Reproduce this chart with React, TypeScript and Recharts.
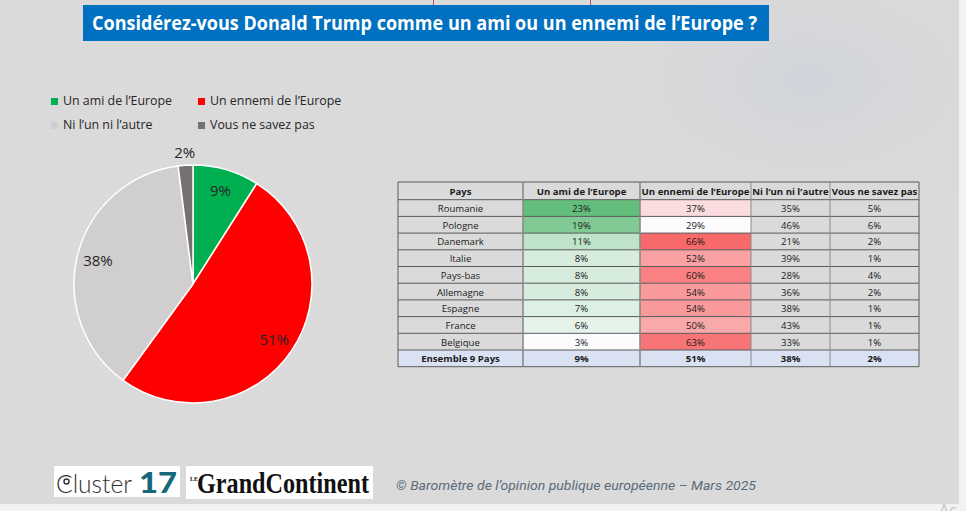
import React from 'react';
import { PieChart, Pie, Cell, Legend } from 'recharts';

// ---------- data ----------
const titleText = 'Considérez-vous Donald Trump comme un ami ou un ennemi de l’Europe ?';
const categories = ['Un ami de l’Europe', 'Un ennemi de l’Europe', 'Ni l’un ni l’autre', 'Vous ne savez pas'];
const pieValues = [9, 51, 38, 2];
const pieColors = ['#00B050', '#FF0000', '#D0CECE', '#767171'];

const countries = ['Roumanie', 'Pologne', 'Danemark', 'Italie', 'Pays-bas', 'Allemagne', 'Espagne', 'France', 'Belgique'];
const amiValues = [23, 19, 11, 8, 8, 8, 7, 6, 3];
const ennemiValues = [37, 29, 66, 52, 60, 54, 54, 50, 63];
const niValues = [35, 46, 21, 39, 28, 36, 38, 43, 33];
const nspValues = [5, 6, 2, 1, 4, 2, 1, 1, 1];
const tableHeaders = ['Pays', ...categories];
const totalLabel = 'Ensemble 9 Pays';
const totalValues = [9, 51, 38, 2];
const footerText = '© Baromètre de l’opinion publique européenne – Mars 2025';

const pieData = categories.map((name, i) => ({ name, value: pieValues[i] }));

// ---------- helpers ----------
const hex = (c: string) => [1, 3, 5].map((i) => parseInt(c.slice(i, i + 2), 16));
const mix = (a: string, b: string, t: number) => {
  const A = hex(a), B = hex(b);
  return 'rgb(' + A.map((v, i) => Math.round(v + (B[i] - v) * t)).join(',') + ')';
};
const scaleColor = (vals: number[], v: number, lo: string, hi: string) => {
  const mn = Math.min(...vals), mx = Math.max(...vals);
  return mix(lo, hi, (v - mn) / (mx - mn));
};

const FONT = '"Open Sans", "Noto Sans", sans-serif';

const renderLabel = (props: any) => {
  const { cx, cy, midAngle, outerRadius, value } = props;
  const RAD = Math.PI / 180;
  const r = value < 5 ? outerRadius + 13 : outerRadius * 0.825;
  const x = cx + r * Math.cos(-midAngle * RAD);
  const y = cy + r * Math.sin(-midAngle * RAD);
  return (
    <text x={x} y={y} textAnchor="middle" dominantBaseline="central" fontSize={15} fill="#262626" fontFamily={FONT}>
      {value}%
    </text>
  );
};

const renderLegend = () => (
  <div style={{ position: 'relative', width: 320, height: 40 }}>
    {categories.map((name, i) => {
      const col = i % 2, row = Math.floor(i / 2);
      return (
        <div key={name} style={{ position: 'absolute', left: col * 147, top: row * 24, display: 'flex', alignItems: 'center', fontFamily: FONT, fontSize: 12.4, color: '#262626', whiteSpace: 'nowrap', lineHeight: '16px' }}>
          <span style={{ display: 'inline-block', width: 7, height: 7, background: pieColors[i], marginRight: 5 }} />
          {name}
        </div>
      );
    })}
  </div>
);

// ---------- table ----------
const colX = [398, 523, 640, 751, 830, 919];
const tableTop = 182;
const headerH = 17.7;
const rowH = 16.7;

const Table = () => {
  const cells: React.ReactNode[] = [];
  const rowY = (r: number) => (r === 0 ? tableTop : tableTop + headerH + (r - 1) * rowH);
  const rowHt = (r: number) => (r === 0 ? headerH : rowH);
  const txt = (x0: number, x1: number, y: number, h: number, s: string, bold: boolean, key: string) => (
    <text key={key} x={(x0 + x1) / 2} y={y + h / 2 + 0.5} textAnchor="middle" dominantBaseline="central" fontFamily={FONT} fontSize={9.6} fontWeight={bold ? 700 : 400} fill="#1a1a1a">
      {s}
    </text>
  );
  tableHeaders.forEach((h, c) => {
    cells.push(txt(colX[c], colX[c + 1], rowY(0), rowHt(0), h, true, 'h' + c));
  });
  countries.forEach((name, i) => {
    const r = i + 1;
    const y = rowY(r), h = rowHt(r);
    const vals = [amiValues[i], ennemiValues[i], niValues[i], nspValues[i]];
    const fills = [
      scaleColor(amiValues, amiValues[i], '#FCFCFF', '#63BE7B'),
      scaleColor(ennemiValues, ennemiValues[i], '#FCFCFF', '#F8696B'),
      null,
      null,
    ];
    fills.forEach((f, c) => {
      if (f) cells.push(<rect key={'f' + r + c} x={colX[c + 1]} y={y} width={colX[c + 2] - colX[c + 1]} height={h} fill={f} />);
    });
    cells.push(txt(colX[0], colX[1], y, h, name, false, 'n' + r));
    vals.forEach((v, c) => cells.push(txt(colX[c + 1], colX[c + 2], y, h, v + '%', false, 'v' + r + c)));
  });
  const tr = countries.length + 1;
  const ty = rowY(tr);
  cells.push(<rect key="tot" x={colX[0]} y={ty} width={colX[5] - colX[0]} height={rowH} fill="#D9E1F2" />);
  cells.push(txt(colX[0], colX[1], ty, rowH, totalLabel, true, 'tn'));
  totalValues.forEach((v, c) => cells.push(txt(colX[c + 1], colX[c + 2], ty, rowH, v + '%', true, 'tv' + c)));
  const nRows = countries.length + 2;
  const bottom = rowY(nRows);
  for (let r = 0; r <= nRows; r++) {
    const y = rowY(r);
    cells.push(<line key={'hl' + r} x1={colX[0]} x2={colX[5]} y1={y} y2={y} stroke="#5a5a5a" strokeWidth={1} />);
  }
  colX.forEach((x, i) => {
    cells.push(<line key={'vl' + i} x1={x} x2={x} y1={tableTop} y2={bottom} stroke={i === 0 || i === 5 ? '#5a5a5a' : '#8a8a8a'} strokeWidth={i === 1 || i === 2 ? 1.6 : 1} />);
  });
  return <g>{cells}</g>;
};

export default function App() {
  return (
    <div style={{ position: 'absolute', left: 0, top: 0, width: 966, height: 511, background: '#DADADA', overflow: 'hidden' }}>
      <svg width={966} height={511} style={{ position: 'absolute', left: 0, top: 0 }}>
        <defs>
          <radialGradient id="flag" cx="0.72" cy="0.25" r="0.45">
            <stop offset="0%" stopColor="#cfd3da" stopOpacity={0.9} />
            <stop offset="100%" stopColor="#DADADA" stopOpacity={0} />
          </radialGradient>
        </defs>
        <rect x={420} y={0} width={540} height={320} fill="url(#flag)" />
        <rect x={959} y={0} width={7} height={511} fill="#F2F2F2" />
        <rect x={0} y={504} width={966} height={7} fill="#F2F2F2" />
        <text x={939} y={516} fontFamily={FONT} fontSize={16} fill="#c4c4c4">Ac</text>
        <rect x={433.5} y={-2} width={157} height={13} fill="none" stroke="#C0504D" strokeWidth={1} />
        <rect x={83} y={5} width={686} height={36} fill="#0070C0" />
        <text x={92} y={30} fontFamily={FONT} fontWeight={700} fontSize={19} fill="#FFFFFF" textLength={665} lengthAdjust="spacingAndGlyphs">
          {titleText}
        </text>
        <Table />
        <rect x={54} y={466} width={126} height={31} fill="#FFFFFF" />
        <circle cx={66.5} cy={481.5} r={2.5} fill="none" stroke="#333" strokeWidth={1.4} />
        <text x={56} y={493} fontFamily='"Lato", "Open Sans", sans-serif' fontSize={26} fontWeight={300} fill="#333333" textLength={76} lengthAdjust="spacingAndGlyphs">Cluster</text>
        <text x={139} y={493} fontFamily='"Lato", "Open Sans", sans-serif' fontSize={28} fontWeight={900} fill="#17687A" textLength={38} lengthAdjust="spacingAndGlyphs">17</text>
        <rect x={186} y={466} width={187} height={33} fill="#FFFFFF" />
        <text x={190} y={481} fontFamily='"Liberation Serif", serif' fontWeight={700} fontSize={6} fill="#111">LE</text>
        <text x={197} y={493} fontFamily='"Liberation Serif", serif' fontWeight={700} fontSize={29} fill="#111111" textLength={172} lengthAdjust="spacingAndGlyphs">GrandContinent</text>
        <text x={396} y={490} fontFamily='"Roboto", "Open Sans", sans-serif' fontStyle="italic" fontSize={13} fill="#5B6B7B" textLength={360} lengthAdjust="spacingAndGlyphs">
          {footerText}
        </text>
      </svg>
      <div style={{ position: 'absolute', left: 0, top: 0 }}>
        <PieChart width={400} height={470}>
          <Legend content={renderLegend} wrapperStyle={{ position: 'absolute', left: 51, top: 93, width: 320, height: 40 }} />
          <Pie
            data={pieData}
            dataKey="value"
            nameKey="name"
            cx={188}
            cy={279}
            outerRadius={119}
            startAngle={90}
            endAngle={-270}
            stroke="#FFFFFF"
            strokeWidth={1.5}
            label={renderLabel}
            labelLine={false}
            isAnimationActive={false}
          >
            {pieData.map((d, i) => (
              <Cell key={d.name} fill={pieColors[i]} />
            ))}
          </Pie>
        </PieChart>
      </div>
    </div>
  );
}
